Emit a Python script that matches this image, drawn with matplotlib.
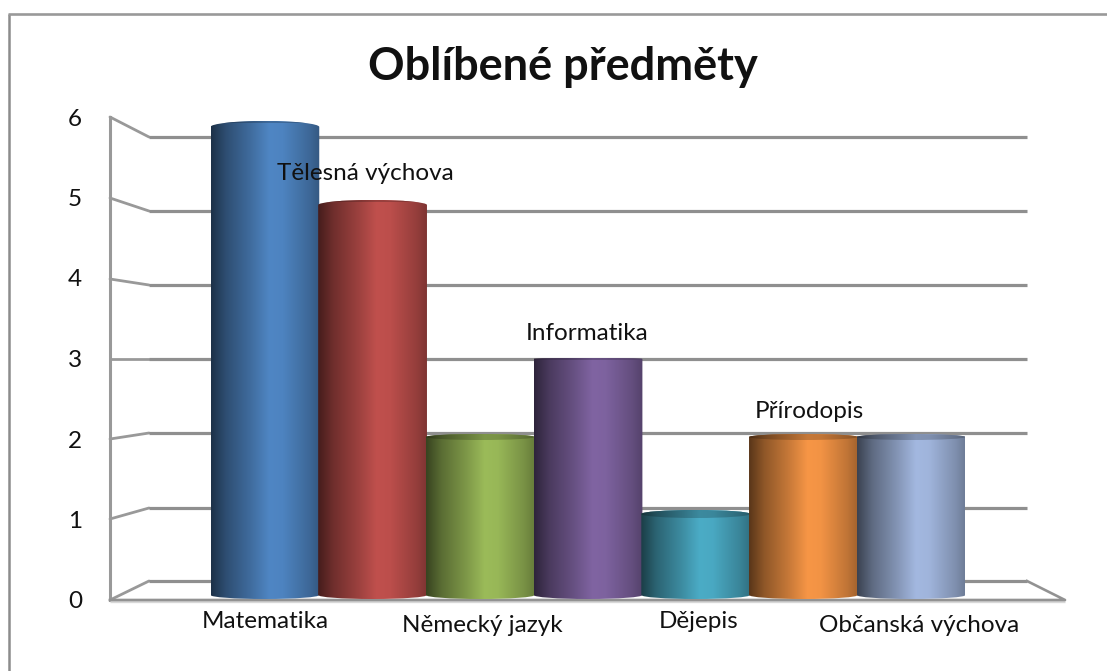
import numpy as np
import matplotlib
matplotlib.use("Agg")
import matplotlib.pyplot as plt
from matplotlib.colors import LinearSegmentedColormap, to_rgb
from matplotlib.patches import PathPatch
from matplotlib.path import Path

plt.rcParams["font.family"] = ["Lato", "Open Sans", "DejaVu Sans"]

subjects = ["Matematika", "Tělesná výchova", "Německý jazyk", "Informatika",
            "Dějepis", "Přírodopis", "Občanská výchova"]
votes = [6, 5, 2, 3, 1, 2, 2]
bar_colors = ["#4f86c4", "#c0504d", "#9bbb59", "#8064a2", "#4bacc6", "#f79646", "#a3b8e0"]
y_ticks = [0, 1, 2, 3, 4, 5, 6]
title = "Oblíbené předměty"

W, H = 1107, 671
fig = plt.figure(figsize=(W / 100, H / 100), dpi=100)


def axes_px(x0, y0, x1, y1, **kw):
    # rectangle given in image pixels, y from the top
    return fig.add_axes([x0 / W, 1 - y1 / H, (x1 - x0) / W, (y1 - y0) / H], **kw)


# frame, walls and floor in pixel coordinates
bg = axes_px(0, 0, W, H)
bg.set_xlim(0, W)
bg.set_ylim(H, 0)
bg.axis("off")
bg.plot([9, 9], [14, H], color="#8c8c8c", lw=1.8, solid_capstyle="butt")
bg.plot([8, W], [14, 14], color="#999999", lw=1.9, solid_capstyle="butt")
front_y = [600, 519, 439, 359, 279, 198, 117]
back_y = [581, 508, 433, 359, 285, 211, 137]
for fy, by in zip(front_y, back_y):
    bg.plot([110, 149], [fy, by], color="#999999", lw=2.0, solid_capstyle="round")
    bg.plot([149, 1027], [by, by], color="#8f8f8f", lw=2.3, solid_capstyle="butt")
bg.plot([110, 110], [117, 600], color="#999999", lw=2.2)
bg.plot([110, 1065], [601, 601], color="#d8d8d8", lw=2.4, solid_capstyle="butt")
bg.plot([110, 1065, 1027], [600, 600, 581], color="#929292", lw=1.9)

# value axis labels (front edge of the 3D box)
yax = axes_px(110, 117, 111, 600)
yax.set_ylim(0, 6)
yax.set_xticks([])
yax.set_yticks(y_ticks)
yax.tick_params(axis="y", length=0, pad=20, labelsize=17.5, labelcolor="#111111")
yax.patch.set_alpha(0)
for s in yax.spines.values():
    s.set_visible(False)

# cylinders; the axes is a bit taller than 0..6 so caps and bases are not cut
PX = 78.0
PAD = 12
ax = axes_px(211, 127 - PAD, 965, 595 + PAD)
ylim = (-PAD / PX, 6 + PAD / PX)
ax.set_xlim(-0.5, 6.5)
ax.set_ylim(*ylim)
ax.axis("off")
ax.patch.set_alpha(0)

x_pos = np.arange(len(subjects))
bars = ax.bar(x_pos, votes, width=1.01, color="none")
bot_h = 4 / PX
# perspective of the top face, by bar height, in pixels:
# shift of the rim, bulge of the upper arc, drop of the lower arc
top_shift = {6: 0, 5: 0, 3: 2, 2: 2, 1: 3}
top_bulge = {6: 6, 5: 5, 3: 1, 2: 3, 1: 4}
top_drop = {6: -4, 5: -3, 3: 1, 2: 3, 1: 4}
shade = [0.0, 0.14, 0.36, 0.54, 0.66, 0.90, 1.0]
shade_f = [0.36, 0.58, 0.80, 1.0, 0.98, 0.78, 0.66]
K = 0.5523


def gradient(path, bar_i, x0, x1, lo, hi, dim, z):
    rgb = np.array(to_rgb(bar_colors[bar_i]))
    cmap = LinearSegmentedColormap.from_list(
        "c%d" % bar_i, [(p, tuple(rgb * f * dim)) for p, f in zip(shade, shade_f)])
    clip = PathPatch(path, transform=ax.transData, fc="none", ec="none")
    ax.add_patch(clip)
    img = ax.imshow(np.linspace(0, 1, 256).reshape(1, -1), cmap=cmap, vmin=0, vmax=1,
                    extent=[x0, x1, lo, hi], aspect="auto", zorder=z)
    img.set_clip_path(clip)


def arc(x_from, x_to, y_end, y_apex):
    # half ellipse from the current point to (x_to, y_end) through apex y_apex
    xc = (x_from + x_to) / 2
    hw = (x_to - x_from) / 2
    v = [(x_from, y_end + (y_apex - y_end) * K), (xc - hw * K, y_apex), (xc, y_apex),
         (xc + hw * K, y_apex), (x_to, y_end + (y_apex - y_end) * K), (x_to, y_end)]
    return v


for i, bar in enumerate(bars):
    x0, w, h = bar.get_x(), bar.get_width(), bar.get_height()
    x1 = x0 + w
    rim = h + top_shift[h] / PX
    up = rim + top_bulge[h] / PX
    low = rim - top_drop[h] / PX
    # body
    verts = [(x0, 0), (x0, rim)] + arc(x0, x1, rim, up) + [(x1, 0)]
    verts += arc(x1, x0, 0, -bot_h) + [(x0, 0)]
    codes = [Path.MOVETO, Path.LINETO] + [Path.CURVE4] * 6 + [Path.LINETO]
    codes += [Path.CURVE4] * 6 + [Path.CLOSEPOLY]
    gradient(Path(verts, codes), i, x0, x1, -bot_h, up, 1.0, 2 + i)
    # darker top face
    cap = [(x0, rim)] + arc(x0, x1, rim, up) + arc(x1, x0, rim, low) + [(x0, rim)]
    cap_codes = [Path.MOVETO] + [Path.CURVE4] * 12 + [Path.CLOSEPOLY]
    gradient(Path(cap, cap_codes), i, x0, x1, min(low, up), max(low, up) + 1e-3, 0.8, 2.5 + i)
ax.set_xlim(-0.5, 6.5)
ax.set_ylim(*ylim)

# category labels: every other one below the floor, the rest above its bar
below_px = {0: 26, 2: 30, 4: 26, 6: 30}
shift_px = {0: 0, 2: 2, 4: 3, 6: 8}
above_px = {1: 32, 3: 28, 5: 27}
above_dx = {1: -7, 3: -1, 5: 6}
pt = 72 / 100
for i, name in enumerate(subjects):
    if i in below_px:
        ax.annotate(name, (x_pos[i], 0), xytext=(shift_px[i] * pt, -below_px[i] * pt),
                    textcoords="offset points", ha="center", va="center",
                    fontsize=17.5, color="#111111", zorder=20, annotation_clip=False)
    else:
        ax.annotate(name, (x_pos[i], votes[i]), xytext=(above_dx[i] * pt, above_px[i] * pt),
                    textcoords="offset points", ha="center", va="center",
                    fontsize=17.5, color="#111111", zorder=20, annotation_clip=False)

fig.text(562.5 / W, 1 - 67 / H, title, ha="center", va="center",
         fontsize=32.5, fontweight="bold", color="#111111")

fig.savefig("out.png", dpi=100)
plt.close(fig)
